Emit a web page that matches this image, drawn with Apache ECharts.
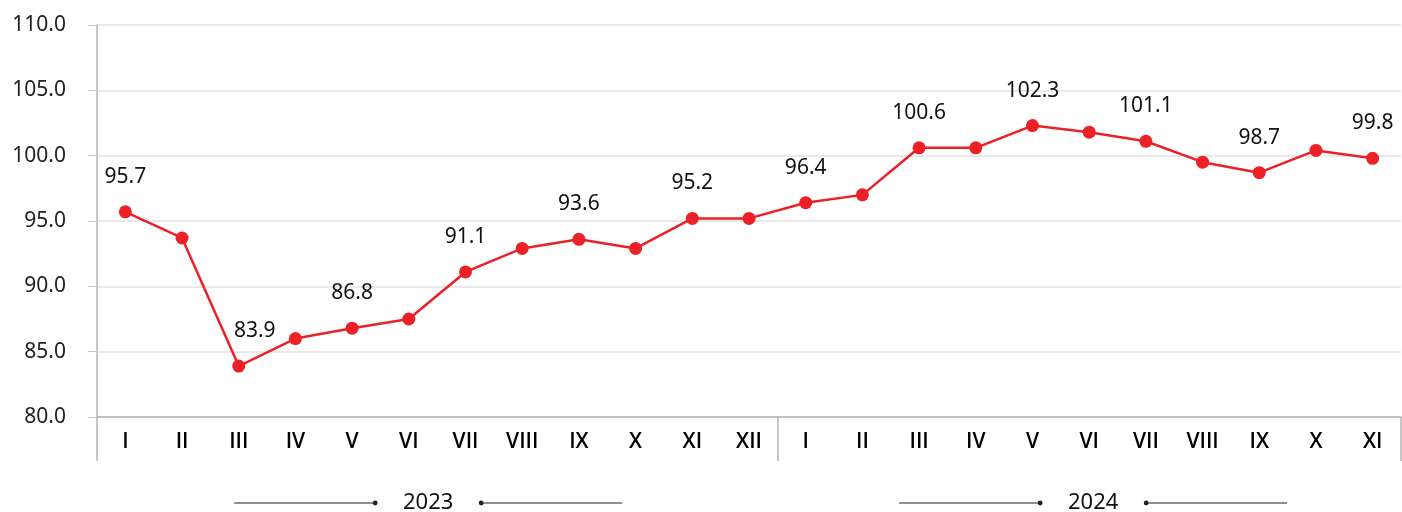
<!DOCTYPE html>
<html>
<head>
<meta charset="utf-8">
<script src="https://cdn.jsdelivr.net/npm/echarts@6/dist/echarts.min.js"></script>
<style>
html,body{margin:0;padding:0;background:#fff;}
#chart{width:1402px;height:512px;}
</style>
</head>
<body>
<div id="chart"></div>
<script>
const categories = ['I','II','III','IV','V','VI','VII','VIII','IX','X','XI','XII',
                    'I','II','III','IV','V','VI','VII','VIII','IX','X','XI'];
const values = [95.7, 93.7, 83.9, 86.0, 86.8, 87.5, 91.1, 92.9, 93.6, 92.9, 95.2, 95.2,
                96.4, 97.0, 100.6, 100.6, 102.3, 101.8, 101.1, 99.5, 98.7, 100.4, 99.8];
const years = ['2023', '2024'];
const yearStart = [0, 12];
const yearEnd = [12, 23];
const yTicks = { min: 80, max: 110, interval: 5 };

const FONT = 'Noto Sans';
const seriesData = values.map((v, i) => (i === 2 ? { value: v, label: { offset: [16, 0] } } : v));

const chart = echarts.init(document.getElementById('chart'));
chart.setOption({
  animation: false,
  backgroundColor: '#fff',
  grid: { left: 97, right: 1, top: 25, bottom: 95, containLabel: false },
  xAxis: {
    type: 'category',
    data: categories,
    boundaryGap: true,
    axisLine: { lineStyle: { color: '#b4b4b4', width: 1.5 } },
    axisTick: {
      show: true, length: 44, inside: false,
      interval: (i) => i === 0 || i === 12,
      lineStyle: { color: '#b4b4b4', width: 1.5 }
    },
    axisLabel: { color: '#000', fontFamily: 'Open Sans', fontWeight: 600, fontSize: 21, margin: 15, interval: 0 }
  },
  yAxis: {
    type: 'value',
    min: yTicks.min, max: yTicks.max, interval: yTicks.interval,
    axisLine: { show: true, lineStyle: { color: '#b4b4b4', width: 1.5 } },
    axisTick: { show: true, length: 9, lineStyle: { color: '#c8c8c8' } },
    splitLine: { lineStyle: { color: '#e2e2e2', width: 1.5 } },
    axisLabel: { color: '#222', fontFamily: FONT, fontSize: 21, margin: 31,
      formatter: (v) => v.toFixed(1) }
  },
  series: [{
    type: 'line',
    data: seriesData,
    symbol: 'circle',
    symbolSize: 13,
    itemStyle: { color: '#ec2128' },
    lineStyle: { color: '#ec2128', width: 2.5 },
    label: {
      show: true, position: 'top', distance: 18,
      color: '#111', fontFamily: FONT, fontSize: 21,
      formatter: (p) => (p.dataIndex % 2 === 0 ? p.value.toFixed(1) : '')
    }
  }]
});

// Year captions with lines and dots, positioned from axis scale
const graphics = [];
const yPix = 503;
years.forEach((yr, k) => {
  const x0 = chart.convertToPixel({ xAxisIndex: 0 }, yearStart[k]);
  const x1 = chart.convertToPixel({ xAxisIndex: 0 }, yearEnd[k] - 1);
  const step = chart.convertToPixel({ xAxisIndex: 0 }, 1) - chart.convertToPixel({ xAxisIndex: 0 }, 0);
  const left = x0 - step / 2, right = x1 + step / 2;
  const cx = (left + right) / 2 - (k === 0 ? 9 : -4);
  const half = 53;
  const lineLen = 141;
  graphics.push(
    { type: 'text', x: cx, y: yPix, style: { text: yr, fill: '#111', font: '22px "' + FONT + '"', textAlign: 'center', textVerticalAlign: 'middle' } },
    { type: 'line', shape: { x1: cx - half - lineLen, y1: yPix, x2: cx - half, y2: yPix }, style: { stroke: '#222', lineWidth: 1.2 } },
    { type: 'circle', shape: { cx: cx - half, cy: yPix, r: 2.4 }, style: { fill: '#222' } },
    { type: 'circle', shape: { cx: cx + half, cy: yPix, r: 2.4 }, style: { fill: '#222' } },
    { type: 'line', shape: { x1: cx + half, y1: yPix, x2: cx + half + lineLen, y2: yPix }, style: { stroke: '#222', lineWidth: 1.2 } }
  );
});
chart.setOption({ graphic: graphics });
</script>
</body>
</html>
